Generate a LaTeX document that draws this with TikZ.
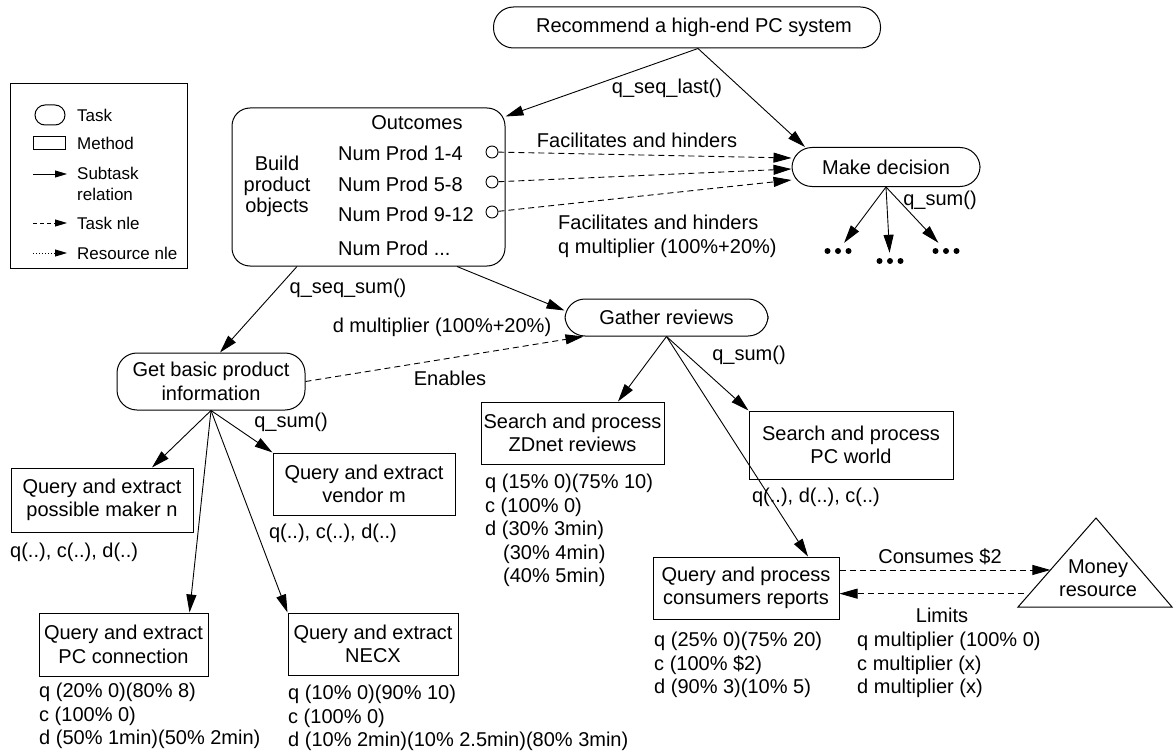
\documentclass[tikz,border=0pt]{standalone}
\usepackage{fontspec}
\setmainfont{Liberation Sans}
\usetikzlibrary{arrows.meta,calc}

\newcommand{\diagfont}{\fontsize{20}{23.5}\selectfont}
\newcommand{\legfont}{\fontsize{17}{21.5}\selectfont}

\tikzset{
  % Task: oval with flat sides
  task/.style={
    rectangle, rounded corners=20pt, draw, line width=1pt,
    minimum height=39pt, inner sep=0pt,
    align=center, font=\diagfont
  },
  % Method: plain box
  method/.style={
    rectangle, draw, line width=1pt,
    inner sep=2pt, align=center, font=\diagfont
  },
  % Outcome marker
  outc/.style={circle, draw, line width=0.9pt, minimum size=12pt, inner sep=0pt},
  % Subtask relation
  sub/.style={-{Triangle[length=18pt,width=10pt]}, line width=0.9pt},
  % Task nle
  nle/.style={sub, dash pattern=on 6pt off 4pt},
  % Legend arrows
  legarr/.style={-{Triangle[length=12pt,width=7pt]}, line width=0.9pt},
  % Text label
  lbl/.style={font=\diagfont, inner sep=0pt},
  % Row of three dots
  dotrow/.style={
    minimum width=30pt, minimum height=16pt, inner sep=0pt,
    path picture={
      \foreach \k in {-1,0,1}
        \fill ([xshift=\k*10.5pt]path picture bounding box.center) circle (3pt);
    }
  }
}

\begin{document}
\begin{tikzpicture}[x=1pt,y=-1pt]
  \useasboundingbox (0,0) rectangle (1174,754);

  % legend
  \node[draw, line width=0.9pt, minimum width=177pt, minimum height=185pt, inner sep=0pt] (legend) at (98.5,175.5) {};
  \node[task, rounded corners=10pt, minimum width=30pt, minimum height=20pt] (ltask) at (50,115) {};
  \node[lbl, font=\legfont, anchor=west] (ltaskt) at (77,115) {Task};
  \node[method, minimum width=32pt, minimum height=13pt, inner sep=0pt] (lmeth) at (49,143.5) {};
  \node[lbl, font=\legfont, anchor=west] (lmetht) at (77,143) {Method};
  \coordinate (lsa) at (33,174);
  \coordinate (lsb) at (67,174);
  \draw[legarr] (lsa) -- (lsb);
  \node[lbl, font=\legfont, anchor=west, align=left] (lsubt) at (77,184) {Subtask\\relation};
  \coordinate (lta) at (33,223);
  \coordinate (ltb) at (67,223);
  \draw[legarr, dash pattern=on 4pt off 3pt] (lta) -- (ltb);
  \node[lbl, font=\legfont, anchor=west] (lnlet) at (77,223) {Task nle};
  \coordinate (lra) at (33,253);
  \coordinate (lrb) at (67,253);
  \draw[legarr, dash pattern=on 1pt off 2pt] (lra) -- (lrb);
  \node[lbl, font=\legfont, anchor=west] (lrest) at (77,253) {Resource nle};

  % tasks
  \node[task, minimum width=387pt, minimum height=41pt] (rec) at (687,27.5) {\hspace*{14pt}Recommend a high-end PC system};
  \node[task, minimum width=188pt] (dec) at (886,167) {Make decision};
  \node[task, minimum width=203pt, minimum height=37pt] (gat) at (666.5,317.5) {Gather reviews};
  \node[task, minimum width=188pt, minimum height=57pt] (gb) at (211,381.5) {Get basic product\\information};

  % build product objects with its outcomes
  \node[draw, line width=1pt, rounded corners=18pt, minimum width=273pt, minimum height=158pt, inner sep=0pt] (bpo) at (368.5,187) {};
  \node[lbl, align=center, font=\fontsize{20}{21}\selectfont] (bpot) at (277,186) {Build\\product\\objects};
  \node[lbl] (outt) at (417,123) {Outcomes};
  \node[lbl, anchor=west] (np1) at (338,153) {Num Prod 1-4};
  \node[lbl, anchor=west] (np2) at (338,184) {Num Prod 5-8};
  \node[lbl, anchor=west] (np3) at (338,214) {Num Prod 9-12};
  \node[lbl, anchor=west] (np4) at (338,248) {Num Prod ...};
  \node[outc] (o1) at (492,152) {};
  \node[outc] (o2) at (492,182) {};
  \node[outc] (o3) at (492,212) {};

  % methods
  \node[method, minimum width=182pt, minimum height=64pt] (maker) at (102,500) {Query and extract\\possible maker n};
  \node[method, minimum width=182pt, minimum height=62pt] (vendor) at (364,484) {Query and extract\\vendor m};
  \node[method, minimum width=169pt, minimum height=63pt] (pcconn) at (123.5,644.5) {Query and extract\\PC connection};
  \node[method, minimum width=170pt, minimum height=62pt] (necx) at (373,644) {Query and extract\\NECX};
  \node[method, minimum width=183pt, minimum height=62pt] (zdnet) at (572.5,433) {Search and process\\ZDnet reviews};
  \node[method, minimum width=204pt, minimum height=68pt] (pcworld) at (851,445) {Search and process\\PC world};
  \node[method, minimum width=186pt, minimum height=62pt] (cons) at (746,588) {Query and process\\consumers reports};

  % money resource
  \coordinate (mtop) at (1096,518);
  \coordinate (mbl) at (1018,607);
  \coordinate (mbr) at (1172,607);
  \draw[line width=1pt] (mtop) -- (mbl) -- (mbr) -- cycle;
  \node[lbl, align=center] (money) at (1098,578) {Money\\resource};

  % unexpanded subtasks
  \node[dotrow] (more1) at (838,251) {};
  \node[dotrow] (more2) at (890,261) {};
  \node[dotrow] (more3) at (946,251) {};

  % subtask relations
  \draw[sub] ([xshift=11pt]rec.south) -- ([yshift=-9pt]bpo.north east);
  \draw[sub] ([xshift=11pt]rec.south) -- ([xshift=-81pt]dec.north);
  \draw[sub] (dec.south) -- (more1);
  \draw[sub] (dec.south) -- (more2);
  \draw[sub] (dec.south) -- (more3);
  \draw[sub] ([xshift=-71.5pt]bpo.south) -- ([xshift=9pt]gb.north);
  \draw[sub] ([xshift=88.5pt]bpo.south) -- ([yshift=7pt]gat.west);
  \draw[sub] (gb.south) -- ([xshift=50pt]maker.north);
  \draw[sub] (gb.south) -- ([xshift=66pt]pcconn.north);
  \draw[sub] (gb.south) -- (necx.north west);
  \draw[sub] (gb.south) -- (vendor.north west);
  \draw[sub] (gat.south) -- ([xshift=45.5pt]zdnet.north);
  \draw[sub] (gat.south) -- (pcworld.north west);
  \draw[sub] (gat.south) -- ([xshift=62pt]cons.north);

  % nle relations
  \draw[nle] (o1) -- ([yshift=9pt]dec.west);
  \draw[nle] (o2) -- ([yshift=-2pt]dec.west);
  \draw[nle] (o3) -- ([yshift=-13pt]dec.west);
  \draw[nle] (gb.east) -- ([xshift=-83pt]gat.south);
  \coordinate (cin) at ($(mtop)!0.584!(mbl)$);
  \coordinate (cout) at ($(mtop)!0.85!(mbl)$);
  \draw[nle] (cin -| cons.east) -- (cin);
  \draw[nle, shorten <=6pt] (cout) -- (cout -| cons.east);

  % labels
  \node[lbl] (qlast) at (667,88) {q\_seq\_last()};
  \node[lbl] (fh1) at (637,140) {Facilitates and hinders};
  \node[lbl, anchor=west, align=left] (fh2) at (558,236.5) {Facilitates and hinders\\q multiplier (100\%+20\%)};
  \node[lbl] (qsum1) at (940,200) {q\_sum()};
  \node[lbl] (qseqsum) at (348,288) {q\_seq\_sum()};
  \node[lbl] (dmult) at (442,327) {d multiplier (100\%+20\%)};
  \node[lbl] (enab) at (450,378) {Enables};
  \node[lbl] (qsum2) at (291,422) {q\_sum()};
  \node[lbl] (qsum3) at (749,355) {q\_sum()};
  \node[lbl, anchor=west] (makerq) at (10,552) {q(..), c(..), d(..)};
  \node[lbl] (vendorq) at (333,533) {q(..), c(..), d(..)};
  \node[lbl] (pcwq) at (816,497) {q(..), d(..), c(..)};
  \node[lbl, anchor=west, align=left] (pcconnq) at (39,716) {q (20\% 0)(80\% 8)\\c (100\% 0)\\d (50\% 1min)(50\% 2min)};
  \node[lbl, anchor=west, align=left] (necxq) at (288,718) {q (10\% 0)(90\% 10)\\c (100\% 0)\\d (10\% 2min)(10\% 2.5min)(80\% 3min)};
  \node[lbl, anchor=west, align=left] (zdq) at (485,530.5) {q (15\% 0)(75\% 10)\\c (100\% 0)\\d (30\% 3min)\\\hspace*{18pt}(30\% 4min)\\\hspace*{18pt}(40\% 5min)};
  \node[lbl] (consumes) at (940,557) {Consumes \$2};
  \node[lbl] (limits) at (942,615) {Limits};
  \node[lbl, anchor=west, align=left] (consq) at (654,665) {q (25\% 0)(75\% 20)\\c (100\% \$2)\\d (90\% 3)(10\% 5)};
  \node[lbl, anchor=west, align=left] (limq) at (857,665) {q multiplier (100\% 0)\\c multiplier (x)\\d multiplier (x)};
\end{tikzpicture}
\end{document}
